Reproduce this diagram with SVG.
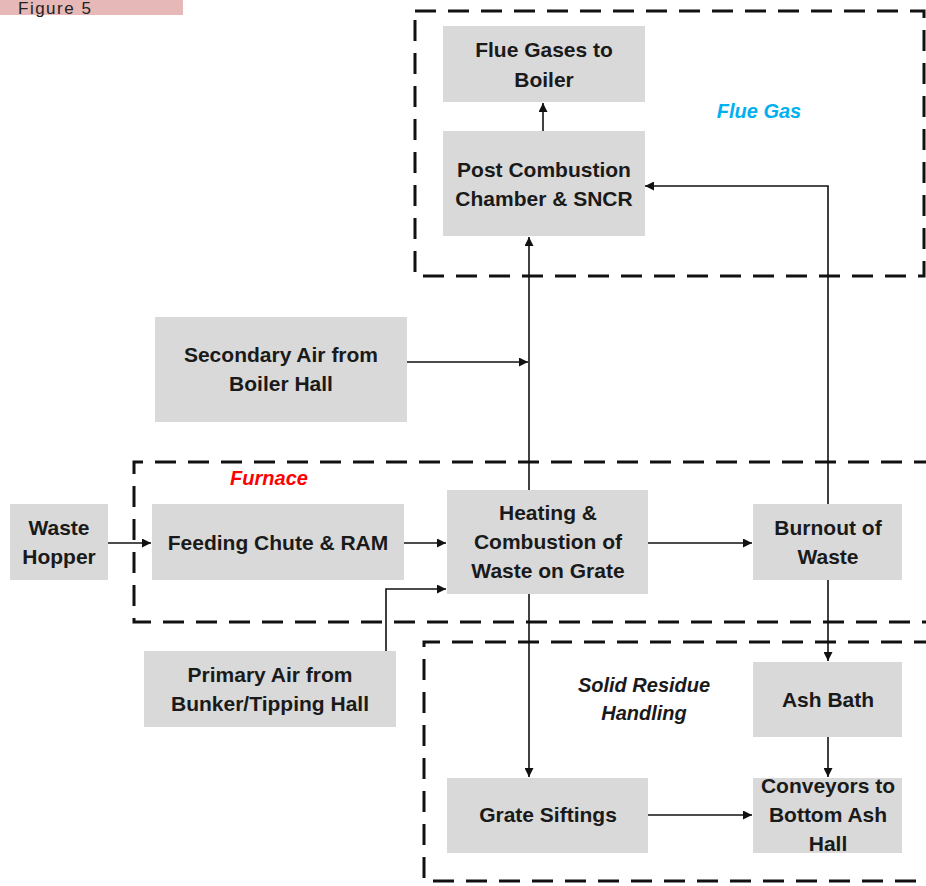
<svg xmlns="http://www.w3.org/2000/svg" width="926" height="886" viewBox="0 0 926 886">
<defs>
<style>
.node rect{fill:#d9d9d9;}
.node text{font-family:"Liberation Sans",Arial,sans-serif;font-weight:bold;font-size:21px;fill:#1a1a1a;text-anchor:middle;}
.zone{fill:none;stroke:#111;stroke-width:3;stroke-dasharray:21 12;}
.lbl{font-family:"Liberation Sans",Arial,sans-serif;font-weight:bold;font-style:italic;font-size:20px;text-anchor:middle;}
.conn path{fill:none;stroke:#111;stroke-width:1.6;}
</style>
<marker id="ah" viewBox="0 0 10 10" refX="10" refY="5" markerWidth="9" markerHeight="9" markerUnits="userSpaceOnUse" orient="auto">
<path d="M0,0 L10,5 L0,10 z" fill="#111"/>
</marker>
</defs>
<rect width="926" height="886" fill="#fff"/>
<g id="figlabel">
<rect x="0" y="0" width="183" height="15" fill="#e6b8b7"/>
<text x="18" y="14" font-family="Liberation Sans,Arial,sans-serif" font-size="17" letter-spacing="1.5" fill="#222">Figure 5</text>
</g>
<g id="zones">
<rect class="zone" x="415" y="11" width="509" height="265"/>
<path class="zone" d="M935,462 H134 V622 H935"/>
<path class="zone" d="M935,642 H424 V881 H935"/>
<text class="lbl" x="759" y="118" fill="#00b0f0">Flue Gas</text>
<text class="lbl" x="269" y="485" fill="#ff0000">Furnace</text>
<text class="lbl" x="644" y="692" fill="#1a1a1a">Solid Residue</text>
<text class="lbl" x="644" y="720" fill="#1a1a1a">Handling</text>
</g>
<g class="conn" id="connectors">
<path d="M543,131 V103" marker-end="url(#ah)"/>
<path d="M529,490 V237" marker-end="url(#ah)"/>
<path d="M828,504 V186 H645" marker-end="url(#ah)"/>
<path d="M407,362 H528" marker-end="url(#ah)"/>
<path d="M108,543 H151" marker-end="url(#ah)"/>
<path d="M404,543 H446" marker-end="url(#ah)"/>
<path d="M386,651 V589 H446" marker-end="url(#ah)"/>
<path d="M648,543 H752" marker-end="url(#ah)"/>
<path d="M828,580 V661" marker-end="url(#ah)"/>
<path d="M828,737 V777" marker-end="url(#ah)"/>
<path d="M529,594 V777" marker-end="url(#ah)"/>
<path d="M648,815 H752" marker-end="url(#ah)"/>
</g>
<g class="node" id="flue-gases-boiler">
<rect x="443" y="26" width="202" height="76"/>
<text x="544" y="57">Flue Gases to</text>
<text x="544" y="87">Boiler</text>
</g>
<g class="node" id="post-combustion">
<rect x="443" y="131" width="202" height="105"/>
<text x="544" y="177">Post Combustion</text>
<text x="544" y="206">Chamber &amp; SNCR</text>
</g>
<g class="node" id="secondary-air">
<rect x="155" y="317" width="252" height="105"/>
<text x="281" y="362">Secondary Air from</text>
<text x="281" y="391">Boiler Hall</text>
</g>
<g class="node" id="waste-hopper">
<rect x="10" y="504" width="98" height="76"/>
<text x="59" y="535">Waste</text>
<text x="59" y="564">Hopper</text>
</g>
<g class="node" id="feeding-chute">
<rect x="152" y="504" width="252" height="76"/>
<text x="278" y="550">Feeding Chute &amp; RAM</text>
</g>
<g class="node" id="heating-combustion">
<rect x="447" y="490" width="201" height="104"/>
<text x="548" y="520">Heating &amp;</text>
<text x="548" y="549">Combustion of</text>
<text x="548" y="578">Waste on Grate</text>
</g>
<g class="node" id="burnout">
<rect x="753" y="504" width="149" height="76"/>
<text x="828" y="535">Burnout of</text>
<text x="828" y="564">Waste</text>
</g>
<g class="node" id="primary-air">
<rect x="144" y="651" width="252" height="76"/>
<text x="270" y="682">Primary Air from</text>
<text x="270" y="711">Bunker/Tipping Hall</text>
</g>
<g class="node" id="ash-bath">
<rect x="753" y="662" width="149" height="75"/>
<text x="828" y="707">Ash Bath</text>
</g>
<g class="node" id="grate-siftings">
<rect x="447" y="778" width="201" height="75"/>
<text x="548" y="822">Grate Siftings</text>
</g>
<g class="node" id="conveyors">
<rect x="753" y="778" width="149" height="75"/>
<text x="828" y="793">Conveyors to</text>
<text x="828" y="822">Bottom Ash</text>
<text x="828" y="851">Hall</text>
</g>
</svg>
